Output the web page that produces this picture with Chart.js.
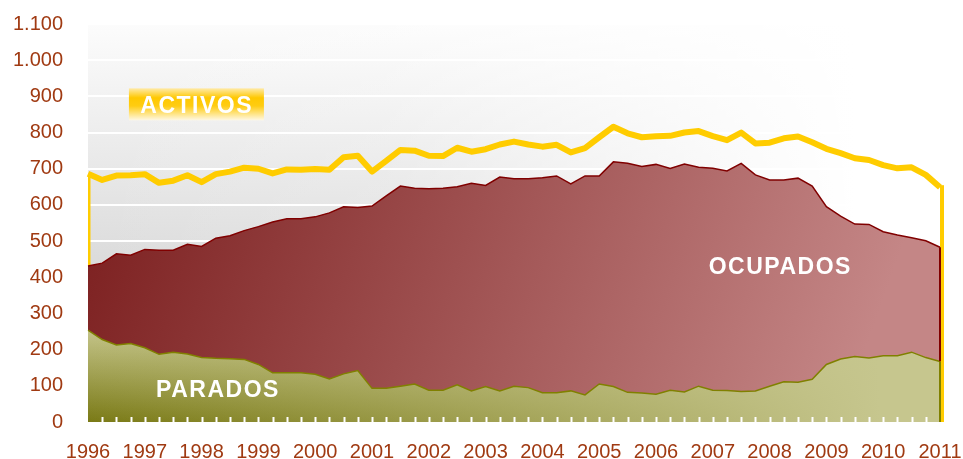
<!DOCTYPE html>
<html lang="es">
<head>
<meta charset="utf-8">
<title>Activos, ocupados y parados 1996-2011</title>
<script src="https://cdn.jsdelivr.net/npm/chart.js@4.4.1/dist/chart.umd.min.js"></script>
<style>
  html, body { margin: 0; padding: 0; background: #fff; }
  #wrap { position: relative; width: 963px; height: 459px; }
</style>
</head>
<body>
<div id="wrap"><canvas id="chart"></canvas></div>
<script>
// Miles de personas, datos trimestrales 1996T1 - 2011T1
const years = ['1996', '1997', '1998', '1999', '2000', '2001', '2002', '2003',
  '2004', '2005', '2006', '2007', '2008', '2009', '2010', '2011'];

const activos = [
  686, 669, 681, 682, 685, 661, 667, 682, 663, 685, 692, 703, 700, 687, 698, 697,
  699, 697, 732, 736, 692, 722, 752, 750, 736, 735, 758, 747, 754, 767, 775, 767,
  761, 766, 745, 757, 787, 816, 798, 787, 790, 791, 800, 804, 790, 779, 800, 770,
  772, 784, 789, 773, 755, 743, 729, 724, 710, 701, 704, 683, 649,
];

const ocupados = [
  431, 439, 465, 461, 477, 475, 475, 491, 485, 508, 515, 529, 540, 553, 562, 562,
  567, 578, 595, 593, 597, 625, 652, 646, 645, 646, 650, 660, 654, 677, 672, 672,
  675, 680, 658, 680, 680, 719, 715, 706, 712, 701, 713, 704, 701, 694, 715, 683,
  669, 669, 674, 652, 595, 569, 547, 546, 526, 517, 509, 501, 483,
];

const parados = [
  254, 228, 213, 217, 205, 187, 193, 188, 178, 176, 175, 173, 159, 136, 136, 136,
  132, 119, 133, 142, 93, 93, 99, 105, 88, 88, 103, 86, 98, 86, 99, 95,
  81, 81, 86, 75, 105, 98, 82, 80, 77, 88, 83, 99, 88, 87, 84, 86,
  99, 111, 110, 118, 159, 174, 181, 177, 183, 183, 193, 178, 167,
];

const yTickLabels = ['0', '100', '200', '300', '400', '500', '600', '700', '800',
  '900', '1.000', '1.100'];

// one label per quarter, the last year only has its first quarter
const quarters = years.slice(0, -1)
  .flatMap(y => ['T1', 'T2', 'T3', 'T4'].map(q => y + q))
  .concat([years[years.length - 1] + 'T1']);

const TEXT = '#a03a12';
const FONT = "'Liberation Sans', Arial, sans-serif";

/** Offscreen canvas the size of the chart, turned into a fill pattern */
function makePattern(chart, paint) {
  const c = document.createElement('canvas');
  c.width = chart.width;
  c.height = chart.height;
  paint(c.getContext('2d'), chart.chartArea);
  return chart.ctx.createPattern(c, 'no-repeat');
}

const cache = {};
function cached(key, chart, paint) {
  const a = chart.chartArea;
  if (!a) return null;
  const sig = [a.left, a.top, a.right, a.bottom].join(',');
  if (!cache[key] || cache[key].sig !== sig) cache[key] = { sig, fill: makePattern(chart, paint) };
  return cache[key].fill;
}

function panelFill(chart) {
  return cached('panel', chart, (ctx, a) => {
    const v = ctx.createLinearGradient(0, a.top, 0, a.bottom);
    v.addColorStop(0, '#fcfcfc');
    v.addColorStop(0.55, '#dedede');
    v.addColorStop(1, '#c6c6c6');
    ctx.fillStyle = v;
    ctx.fillRect(a.left, a.top, a.right - a.left, a.bottom - a.top);
    const h = ctx.createLinearGradient(a.left, 0, a.right, 0);
    h.addColorStop(0, 'rgba(255,255,255,0)');
    h.addColorStop(0.35, 'rgba(255,255,255,0.15)');
    h.addColorStop(0.9, 'rgba(255,255,255,1)');
    ctx.fillStyle = h;
    ctx.fillRect(a.left, a.top, a.right - a.left, a.bottom - a.top);
  });
}

function ocupadosFill(chart) {
  return cached('ocupados', chart, (ctx, a) => {
    const g = ctx.createLinearGradient(a.left, a.top + 130, a.right - 100, a.bottom);
    g.addColorStop(0, '#7b1e1e');
    g.addColorStop(1, '#c48686');
    ctx.fillStyle = g;
    ctx.fillRect(0, 0, chart.width, chart.height);
  });
}

function paradosFill(chart) {
  return cached('parados', chart, (ctx, a) => {
    const yTop = chart.scales.y.getPixelForValue(260);
    const v = ctx.createLinearGradient(0, yTop, 0, a.bottom);
    v.addColorStop(0, '#c6c68c');
    v.addColorStop(1, '#7a7a16');
    ctx.fillStyle = v;
    ctx.fillRect(0, 0, chart.width, chart.height);
    const h = ctx.createLinearGradient(a.left, 0, a.right - 60, 0);
    h.addColorStop(0, 'rgba(198,198,142,0)');
    h.addColorStop(1, 'rgba(198,198,142,1)');
    ctx.fillStyle = h;
    ctx.fillRect(0, 0, chart.width, chart.height);
  });
}

const panelBackground = {
  id: 'panelBackground',
  beforeDraw(chart) {
    const { ctx, chartArea: a } = chart;
    ctx.save();
    ctx.fillStyle = panelFill(chart) || '#eee';
    ctx.fillRect(a.left, a.top, a.right - a.left, a.bottom - a.top);
    ctx.restore();
  },
};

function vline(ctx, x, y0, y1, color, width) {
  ctx.beginPath();
  ctx.moveTo(x, y0);
  ctx.lineTo(x, y1);
  ctx.strokeStyle = color;
  ctx.lineWidth = width;
  ctx.stroke();
}

/** Closing edges of the areas: activos outline at the left, all three at the right */
const areaEdges = {
  id: 'areaEdges',
  beforeDatasetsDraw(chart) {
    const { ctx, chartArea: a, scales: { x, y } } = chart;
    ctx.save();
    ctx.beginPath();
    ctx.rect(a.left, a.top, a.right - a.left, a.bottom - a.top);
    ctx.clip();
    vline(ctx, x.getPixelForValue(0), y.getPixelForValue(activos[0]), y.getPixelForValue(0), '#ffcc00', 5);
    ctx.restore();
  },
  afterDatasetsDraw(chart) {
    const { ctx, scales: { x, y } } = chart;
    const last = activos.length - 1;
    const px = x.getPixelForValue(last);
    ctx.save();
    vline(ctx, px + 2, y.getPixelForValue(activos[last]) - 2, y.getPixelForValue(0), '#ffcc00', 4);
    vline(ctx, px, y.getPixelForValue(ocupados[last]), y.getPixelForValue(parados[last]), '#800000', 2);
    vline(ctx, px, y.getPixelForValue(parados[last]), y.getPixelForValue(0), '#808000', 2);
    ctx.restore();
  },
};

/** Small white quarter marks standing on the x axis, inside the plot */
const innerTicks = {
  id: 'innerTicks',
  afterDatasetsDraw(chart) {
    const { ctx, chartArea: a, scales: { x } } = chart;
    ctx.save();
    x.ticks.forEach((t, i) => {
      if (i === 0 || i === x.ticks.length - 1) return;
      vline(ctx, Math.round(x.getPixelForTick(i)) + 0.5, a.bottom - 5, a.bottom, '#ffffff', 2);
    });
    ctx.restore();
  },
};

function spacedText(ctx, text, cx, cy) {
  ctx.textAlign = 'center';
  ctx.textBaseline = 'middle';
  ctx.letterSpacing = '1.5px';
  ctx.fillText(text, cx + 0.75, cy);
}

const seriesLabels = {
  id: 'seriesLabels',
  afterDatasetsDraw(chart) {
    const { ctx, scales: { x, y } } = chart;
    ctx.save();
    ctx.font = `bold 23px ${FONT}`;

    // ACTIVOS sits on a yellow band
    const ax = x.getPixelForValue(7.6);
    const ay = y.getPixelForValue(878);
    const g = ctx.createLinearGradient(0, ay - 16, 0, ay + 16);
    g.addColorStop(0, '#ffeaa8');
    g.addColorStop(0.3, '#ffc800');
    g.addColorStop(0.55, '#ffcc12');
    g.addColorStop(1, '#fff8e4');
    ctx.fillStyle = g;
    ctx.fillRect(ax - 67, ay - 16, 135, 32);
    ctx.fillStyle = '#ffffff';
    spacedText(ctx, 'ACTIVOS', ax, ay + 2);

    spacedText(ctx, 'OCUPADOS', x.getPixelForValue(48.7), y.getPixelForValue(426));
    spacedText(ctx, 'PARADOS', x.getPixelForValue(9.1), y.getPixelForValue(86));
    ctx.restore();
  },
};

new Chart(document.getElementById('chart'), {
  type: 'line',
  data: {
    labels: quarters,
    datasets: [
      {
        label: 'Parados', data: parados,
        borderColor: '#808000', borderWidth: 1.5,
        backgroundColor: c => paradosFill(c.chart) || '#b0b070',
        fill: 'origin', pointRadius: 0, tension: 0,
      },
      {
        label: 'Ocupados', data: ocupados,
        borderColor: '#800000', borderWidth: 1.5,
        backgroundColor: c => ocupadosFill(c.chart) || '#a05050',
        fill: 'origin', pointRadius: 0, tension: 0,
      },
      {
        label: 'Activos', data: activos,
        borderColor: '#ffcc00', borderWidth: 6, borderJoinStyle: 'round',
        fill: false, pointRadius: 0, tension: 0,
      },
    ],
  },
  options: {
    responsive: true,
    maintainAspectRatio: false,
    animation: false,
    layout: { padding: { top: 24, right: 23, left: 0, bottom: 0 } },
    plugins: { legend: { display: false }, tooltip: { enabled: false } },
    scales: {
      x: {
        grid: { display: false },
        border: { display: false },
        ticks: {
          autoSkip: false, maxRotation: 0, padding: 10,
          color: TEXT, font: { family: FONT, size: 20 },
          callback(v) { const l = quarters[v]; return l.endsWith('T1') ? l.slice(0, 4) : ''; },
        },
        afterFit(s) { s.height = 37; s.paddingLeft = 0; s.paddingRight = 0; },
      },
      y: {
        min: 0, max: 1100,
        grid: { color: '#ffffff', lineWidth: 2, drawTicks: false },
        border: { display: false },
        ticks: {
          stepSize: 100, padding: 25,
          color: TEXT, font: { family: FONT, size: 20 },
          callback: v => yTickLabels[Math.round(v / 100)],
        },
        afterFit(s) { s.width = 88; s.paddingTop = 0; s.paddingBottom = 0; },
      },
    },
  },
  plugins: [panelBackground, areaEdges, innerTicks, seriesLabels],
});
</script>
</body>
</html>
